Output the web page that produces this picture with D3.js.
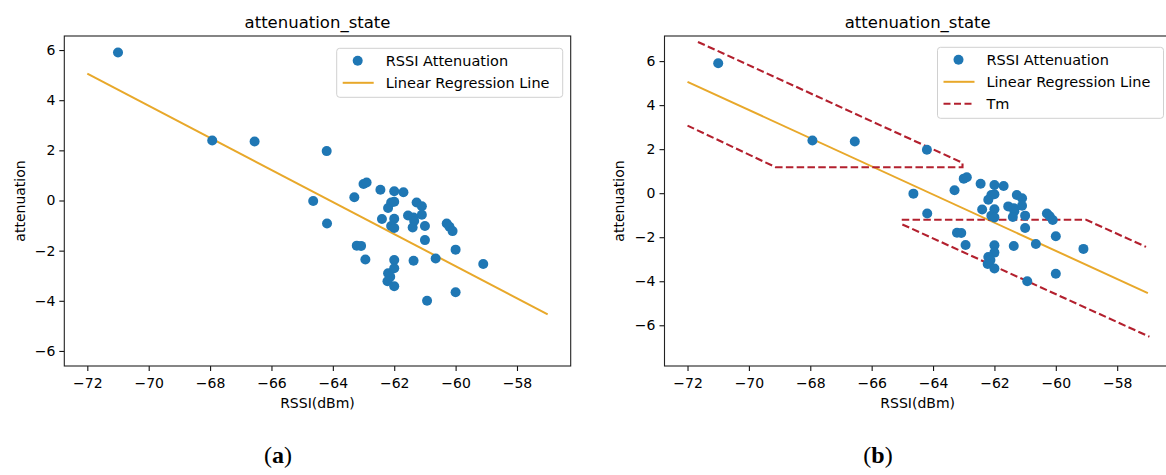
<!DOCTYPE html>
<html>
<head>
<meta charset="utf-8">
<script src="https://cdn.jsdelivr.net/npm/d3@7"></script>
<style>
    body { margin: 0; background: #fff; }
    svg text { font-family: "DejaVu Sans", sans-serif; fill: #000; }
</style>
</head>
<body>
<svg id="chart" width="1166" height="475"></svg>
<script>

// Scatter data
const rssi = [
    -71.0, -67.93, -66.55, -64.2, -64.64, -64.19, -63.3, -63.0, -62.9, -62.45,
    -62.0, -61.7, -62.1, -62.2, -62.0, -62.4, -62.0, -62.1, -62.0, -61.27,
    -61.1, -61.55, -61.37, -61.35, -61.1, -61.4, -61.0, -61.0, -60.29, -60.2,
    -60.1, -63.22, -63.08, -60.0, -62.94, -62.0, -61.37, -60.65, -59.1, -62.0,
    -62.2, -62.13, -62.22, -62.0, -60.0, -60.93
];
const attenuation = [
    5.9, 2.39, 2.35, 1.97, -0.02, -0.92, 0.13, 0.66, 0.72, 0.43,
    0.37, 0.33, -0.08, -0.3, -0.05, -0.74, -0.73, -1.02, -1.1, -0.08,
    -0.23, -0.6, -0.68, -0.82, -0.57, -1.08, -1.02, -1.58, -0.92, -1.05,
    -1.22, -1.8, -1.81, -1.96, -2.35, -2.37, -2.4, -2.31, -2.53, -2.7,
    -2.9, -3.04, -3.22, -3.42, -3.66, -4.0
];

// Linear regression line end points
const regX = [-72, -57];
const regY = [5.06, -4.54];

// Tm bounds (panel b)
const tmUpperLeft = [[-71.66, 6.87], [-63.04, 1.38], [-63.04, 1.18], [-69.13, 1.18], [-72.0, 3.07]];
const tmUpperRight = [[-65.02, -1.21], [-59.01, -1.21], [-57.06, -2.44]];
const tmLowerRight = [[-65.0, -1.42], [-56.95, -6.52]];

const xTicks = [-72, -70, -68, -66, -64, -62, -60, -58];
const yTicks = [-6, -4, -2, 0, 2, 4, 6];
const title = "attenuation_state";
const xLabel = "RSSI(dBm)";
const yLabel = "attenuation";

const blue = "#1f77b4";
const gold = "#e8a82a";
const red = "#b3202e";

const svg = d3.select("#chart");

const panels = [
    { id: "a", left: 64.3, yDomain: [-6.6, 6.56], tm: false, labelX: 25, captionX: 278,
      legend: { x: 336.7, y: 48.3, w: 226, h: 49 } },
    { id: "b", left: 664.5, yDomain: [-7.85, 7.14], tm: true, labelX: 624, captionX: 878,
      legend: { x: 937.5, y: 47.3, w: 226, h: 71 } }
];

panels.forEach(p => drawPanel(p));

function drawPanel(p) {

    const top = 36, width = 506.4, height = 330;

    const x = d3.scaleLinear().domain([-72.75, -56.25]).range([0, width]);
    const y = d3.scaleLinear().domain(p.yDomain).range([height, 0]);

    const g = svg.append("g").attr("transform", `translate(${p.left},${top})`);

    g.append("clipPath").attr("id", "clip-" + p.id)
        .append("rect").attr("width", width).attr("height", height);

    const plot = g.append("g").attr("clip-path", `url(#clip-${p.id})`);

    // Regression line
    plot.append("line")
        .attr("x1", x(regX[0])).attr("y1", y(regY[0]))
        .attr("x2", x(regX[1])).attr("y2", y(regY[1]))
        .attr("stroke", gold)
        .attr("stroke-width", 2);

    // Tm
    if (p.tm) {
        const line = d3.line().x(d => x(d[0])).y(d => y(d[1]));
        plot.selectAll(".tm")
            .data([tmUpperLeft, tmUpperRight, tmLowerRight])
            .join("path")
            .attr("class", "tm")
            .attr("d", line)
            .attr("fill", "none")
            .attr("stroke", red)
            .attr("stroke-width", 2.1)
            .attr("stroke-dasharray", "7.5,3.3");
    }

    // Points
    plot.selectAll(".dot")
        .data(d3.range(rssi.length))
        .join("circle")
        .attr("class", "dot")
        .attr("cx", i => x(rssi[i]))
        .attr("cy", i => y(attenuation[i]))
        .attr("r", 5)
        .attr("fill", blue);

    // Axes
    const xAxis = g.append("g")
        .attr("transform", `translate(0,${height})`)
        .call(d3.axisBottom(x).tickValues(xTicks).tickSize(5).tickPadding(4)
            .tickFormat(d => d3.format("d")(d).replace("-", "\u2212")));
    const yAxis = g.append("g")
        .call(d3.axisLeft(y).tickValues(yTicks).tickSize(5).tickPadding(4)
            .tickFormat(d => d3.format("d")(d).replace("-", "\u2212")));

    [xAxis, yAxis].forEach(a => {
        a.select(".domain").remove();
        a.selectAll("line").attr("stroke", "#111").attr("stroke-width", 1.1);
        a.selectAll("text").attr("font-size", 14).attr("font-family", "DejaVu Sans").attr("fill", "#111");
    });
    xAxis.selectAll("text").attr("dy", "0.95em");

    g.append("rect")
        .attr("width", width).attr("height", height)
        .attr("fill", "none")
        .attr("stroke", "#222")
        .attr("stroke-width", 1.1);

    // Title and labels
    g.append("text")
        .attr("x", width / 2).attr("y", -8.5)
        .attr("text-anchor", "middle")
        .attr("font-size", 16.5)
        .text(title);

    g.append("text")
        .attr("x", width / 2).attr("y", height + 42)
        .attr("text-anchor", "middle")
        .attr("font-size", 14)
        .text(xLabel);

    svg.append("text")
        .attr("transform", `translate(${p.labelX},${top + height / 2}) rotate(-90)`)
        .attr("text-anchor", "middle")
        .attr("font-size", 14)
        .text(yLabel);

    // Legend
    const L = p.legend;
    const lg = svg.append("g").attr("transform", `translate(${L.x},${L.y})`);
    lg.append("rect")
        .attr("width", L.w).attr("height", L.h)
        .attr("rx", 3)
        .attr("fill", "rgba(255,255,255,0.8)")
        .attr("stroke", "#d0d0d0");

    const items = [
        { label: "RSSI Attenuation", kind: "dot" },
        { label: "Linear Regression Line", kind: "line" }
    ];
    if (p.tm) items.push({ label: "Tm", kind: "dash" });

    items.forEach((it, i) => {
        const cy = 12.5 + i * 22;
        if (it.kind === "dot") {
            lg.append("circle").attr("cx", 21).attr("cy", cy).attr("r", 5).attr("fill", blue);
        } else {
            lg.append("line")
                .attr("x1", 6).attr("x2", 37).attr("y1", cy).attr("y2", cy)
                .attr("stroke", it.kind === "line" ? gold : red)
                .attr("stroke-width", 2)
                .attr("stroke-dasharray", it.kind === "dash" ? "7,3.5" : null);
        }
        lg.append("text")
            .attr("x", 49).attr("y", cy)
            .attr("dy", "0.36em")
            .attr("font-size", 14.5)
            .text(it.label);
    });

    // Sub-figure caption
    const cap = svg.append("text")
        .attr("x", p.captionX).attr("y", 463)
        .attr("text-anchor", "middle")
        .attr("font-family", "Liberation Serif")
        .attr("font-size", 24)
        .style("font-family", "'Liberation Serif', serif");
    cap.append("tspan").text("(");
    cap.append("tspan").attr("font-weight", "bold").text(p.id);
    cap.append("tspan").text(")");
}

</script>
</body>
</html>
